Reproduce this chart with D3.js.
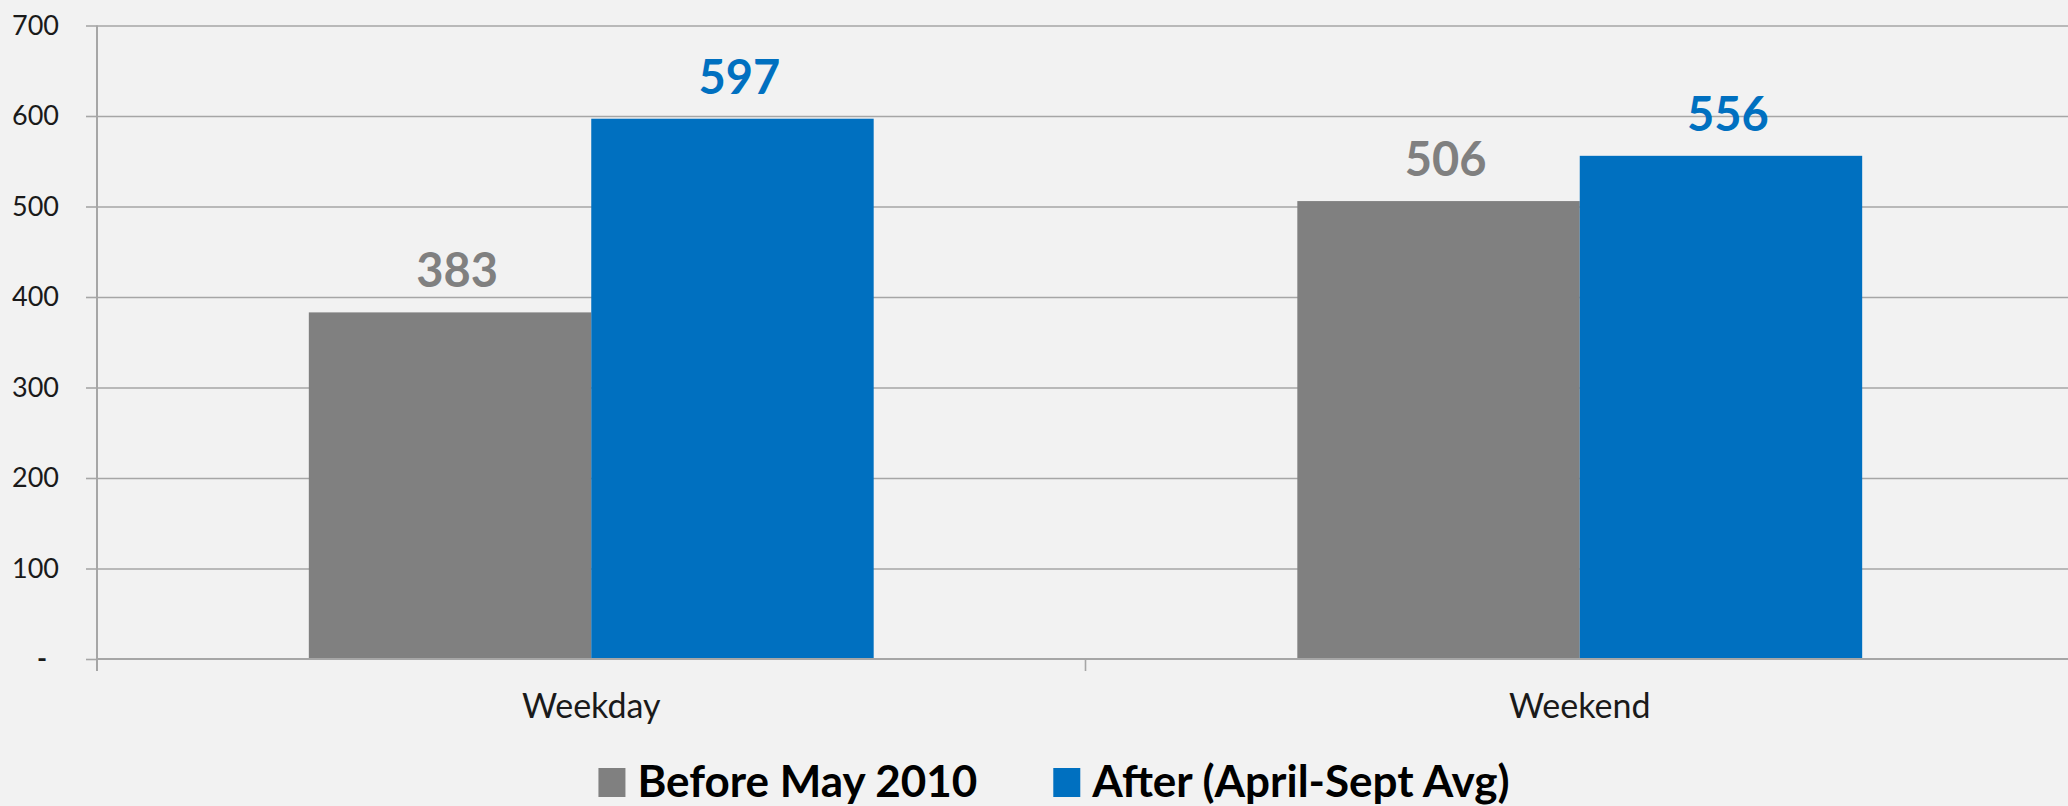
<!DOCTYPE html>
<html>
<head>
<meta charset="utf-8">
<script src="https://cdn.jsdelivr.net/npm/d3@7"></script>
<style>
  html, body { margin: 0; padding: 0; background: #f2f2f2; }
  svg { display: block; }
  text { font-family: Lato, "Open Sans", sans-serif; }
</style>
</head>
<body>
<svg id="chart" width="2068" height="806"></svg>
<script>
const categories = ["Weekday", "Weekend"];
const seriesNames = ["Before May 2010", "After (April-Sept Avg)"];
const beforeValues = [383, 506];
const afterValues = [597, 556];
const yTicks = [0, 100, 200, 300, 400, 500, 600, 700];
const seriesColors = ["#808080", "#0070c0"];

const seriesValues = [beforeValues, afterValues];

const W = 2068, H = 806;
const plotLeft = 97, plotRight = 2074, plotTop = 25.5, plotBottom = 659;

const svg = d3.select("#chart");
svg.append("rect").attr("width", W).attr("height", H).attr("fill", "#f2f2f2");

const x0 = d3.scaleBand().domain(categories).range([plotLeft, plotRight]).padding(0);
const bw = x0.bandwidth();
const x1 = d3.scaleBand().domain(seriesNames)
  .range([bw * 0.75 / 3.5, bw * 2.75 / 3.5]).padding(0);
const y = d3.scaleLinear().domain([0, 700]).range([plotBottom, plotTop]);

// gridlines
const grid = svg.append("g").attr("transform", `translate(${plotLeft},0)`)
  .call(d3.axisLeft(y).tickValues(yTicks.filter(d => d > 0)).tickSize(-(plotRight - plotLeft)).tickFormat(""));
grid.select(".domain").remove();
grid.selectAll("line").attr("stroke", "#a6a6a6").attr("stroke-width", 1.6);

// y axis with labels
const yAxis = svg.append("g").attr("transform", `translate(${plotLeft},0)`)
  .call(d3.axisLeft(y).tickValues(yTicks).tickSize(11).tickPadding(27)
    .tickFormat(d => d === 0 ? "-" : d));
yAxis.select(".domain").remove();
yAxis.selectAll("line").attr("stroke", "#a6a6a6").attr("stroke-width", 1.6);
yAxis.selectAll("text").attr("fill", "#1a1a1a").style("font-size", "27px")
  .style("font-family", "Lato, sans-serif");
yAxis.selectAll(".tick").filter(d => d === 0).select("text").attr("x", -50).style("font-weight", "bold");
svg.append("line").attr("x1", plotLeft).attr("x2", plotLeft).attr("y1", plotTop).attr("y2", plotBottom + 12)
  .attr("stroke", "#a6a6a6").attr("stroke-width", 2);

// bars
const groups = svg.append("g").selectAll("g").data(categories).join("g")
  .attr("transform", d => `translate(${x0(d)},0)`);

groups.selectAll("rect")
  .data((c, ci) => seriesNames.map((s, si) => ({ s, si, v: seriesValues[si][ci] })))
  .join("rect")
  .attr("x", d => x1(d.s))
  .attr("width", x1.bandwidth())
  .attr("y", d => y(d.v))
  .attr("height", d => y(0) - y(d.v))
  .attr("fill", d => seriesColors[d.si]);

groups.selectAll("text.lbl")
  .data((c, ci) => seriesNames.map((s, si) => ({ s, si, v: seriesValues[si][ci] })))
  .join("text").attr("class", "lbl")
  .attr("x", d => x1(d.s) + x1.bandwidth() / 2 + 7)
  .attr("y", d => y(d.v) - 25)
  .attr("text-anchor", "middle")
  .attr("fill", d => seriesColors[d.si])
  .style("font-size", "47px").style("font-weight", "bold")
  .text(d => d.v);

// x axis
const xAxis = svg.append("g").attr("transform", `translate(0,${plotBottom})`)
  .call(d3.axisBottom(x0).tickSize(0).tickPadding(35));
xAxis.select(".domain").remove();
xAxis.selectAll("text").attr("fill", "#1a1a1a").style("font-size", "34px")
  .style("font-family", "Lato, sans-serif").attr("dy", "0.71em");
svg.append("line").attr("x1", plotLeft).attr("x2", plotRight).attr("y1", plotBottom).attr("y2", plotBottom)
  .attr("stroke", "#a6a6a6").attr("stroke-width", 1.8);
const bounds = categories.map(c => x0(c)).concat([x0(categories[categories.length - 1]) + bw]);
svg.append("g").selectAll("line").data(bounds).join("line")
  .attr("x1", d => d).attr("x2", d => d).attr("y1", plotBottom).attr("y2", plotBottom + 12)
  .attr("stroke", "#a6a6a6").attr("stroke-width", 1.6);

// legend
const leg = svg.append("g");
const items = leg.selectAll("g").data(seriesNames).join("g");
items.append("rect").attr("width", 27).attr("height", 29).attr("y", -29)
  .attr("fill", (d, i) => seriesColors[i]);
items.append("text").attr("x", 39).attr("y", 0)
  .style("font-size", "44px").style("font-weight", "bold").attr("fill", "#000")
  .text(d => d);
const widths = [];
items.each(function (d, i) {
  const w = 39 + this.querySelector("text").getComputedTextLength();
  widths.push(w);
});
const gap = 76;
const total = widths.reduce((a, b) => a + b, 0) + gap * (widths.length - 1);
const start = 1054 - total / 2;
items.attr("transform", (d, i) => {
  const xx = start + widths.slice(0, i).reduce((a, b) => a + b, 0) + gap * i;
  return `translate(${xx},797)`;
});
</script>
</body>
</html>
